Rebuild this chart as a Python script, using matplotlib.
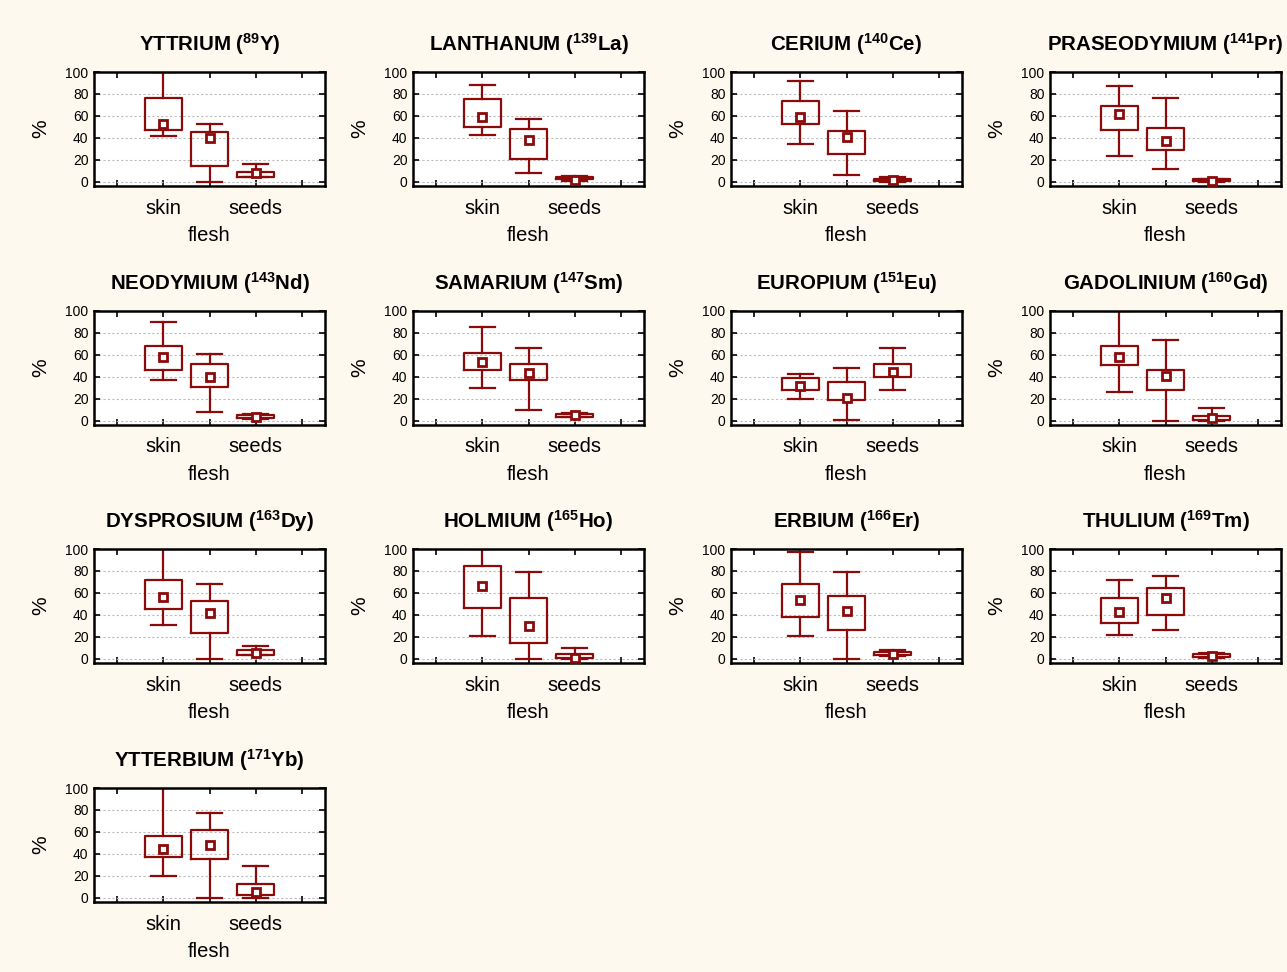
import numpy as np
import matplotlib.pyplot as plt

plt.rcParams['font.family'] = ['Liberation Sans', 'DejaVu Sans']
plt.rcParams['mathtext.fontset'] = 'custom'
plt.rcParams['mathtext.rm'] = 'Liberation Sans:bold'
plt.rcParams['mathtext.it'] = 'Liberation Sans:bold'
plt.rcParams['mathtext.bf'] = 'Liberation Sans:bold'

# element names and isotope labels
titles = [r'YTTRIUM ($^{89}$Y)', r'LANTHANUM ($^{139}$La)', r'CERIUM ($^{140}$Ce)',
          r'PRASEODYMIUM ($^{141}$Pr)', r'NEODYMIUM ($^{143}$Nd)', r'SAMARIUM ($^{147}$Sm)',
          r'EUROPIUM ($^{151}$Eu)', r'GADOLINIUM ($^{160}$Gd)', r'DYSPROSIUM ($^{163}$Dy)',
          r'HOLMIUM ($^{165}$Ho)', r'ERBIUM ($^{166}$Er)', r'THULIUM ($^{169}$Tm)',
          r'YTTERBIUM ($^{171}$Yb)']
parts = ['skin', 'flesh', 'seeds']

# per element: [skin, flesh, seeds]
med = [[53, 40, 7.5], [58.8, 38, 1.3], [58.8, 40.6, 1.3], [62, 36.6, 0.6],
       [58.4, 39.4, 3], [53.8, 43, 4.7], [32, 20.9, 44.7], [57.9, 40.6, 2.2],
       [56, 41.4, 5.5], [66.6, 29.4, 0.5], [53.4, 43.8, 3.8], [42.2, 55.3, 2.2],
       [44, 48, 5.5]]
q1 = [[47.5, 14.6, 4], [49.7, 20.6, 2], [53, 25.6, 0.5], [47.5, 28.9, 0.5],
      [46.3, 30.3, 2.5], [46.6, 37.2, 3.4], [27.5, 19, 39.4], [50.9, 27.7, 0.3],
      [45.4, 23.3, 3.7], [45.9, 14.7, 0.5], [38.4, 25.9, 3.1], [32.8, 40, 1.2],
      [37, 35, 2]]
q3 = [[76.7, 45.6, 9], [75.3, 47.8, 4.4], [73.4, 46.3, 2.5], [69.3, 49, 2],
      [68, 51.9, 5], [61.3, 51.9, 6.3], [39, 35.3, 51.9], [68.2, 46.2, 4.1],
      [72, 52.5, 7.7], [84.7, 55, 3.8], [67.8, 56.9, 6.3], [55, 64.4, 4.4],
      [56, 62, 12]]
lo = [[41.9, 0, 4], [42.2, 7.5, 1], [34.7, 5.6, 0], [23.6, 11.2, 0],
      [37, 8, 1.5], [30, 10, 3], [19.4, 0.6, 28.1], [25.8, 0, 0],
      [31, 0, 3.7], [20.3, 0, 0], [20.3, 0, 2], [21.9, 25.9, 0.5],
      [20, 0, 0]]
hi = [[100, 53, 16.5], [88, 57.2, 5.3], [91.9, 64.7, 4], [87.6, 76.7, 2.2],
      [90, 61, 5.6], [85, 66.6, 7.2], [42.5, 48, 66.6], [100, 73.9, 11.3],
      [100, 68.4, 11.7], [100, 79.4, 9.7], [97.5, 79.4, 7.5], [71.6, 75.3, 5.3],
      [100, 77, 29]]

red = '#8B0A0A'
W, H = 1287, 972
fig = plt.figure(figsize=(W / 100, H / 100), dpi=100, facecolor='#FDF9EE')

lefts = [94, 413, 731, 1050]
tops = [72, 311, 549, 788]
aw, ah = 231, 114

for i, t in enumerate(titles):
    r, c = divmod(i, 4)
    ax = fig.add_axes([lefts[c] / W, 1 - (tops[r] + ah) / H, aw / W, ah / H])
    stats = []
    for j in range(3):
        stats.append(dict(med=med[i][j], q1=q1[i][j], q3=q3[i][j],
                          whislo=lo[i][j], whishi=hi[i][j], label=parts[j]))
    ax.bxp(stats, positions=[2, 3, 4], widths=0.8, capwidths=0.55, showfliers=False,
           boxprops=dict(color=red, lw=1.6), whiskerprops=dict(color=red, lw=1.6),
           capprops=dict(color=red, lw=1.6), medianprops=dict(lw=0))
    ax.plot([2, 3, 4], med[i], ls='none', marker='s', ms=5.5, mfc='white',
            mec=red, mew=2, zorder=5)
    ax.set_xlim(0.5, 5.5)
    ax.set_ylim(-4, 100)
    ax.set_xticks([1, 2, 3, 4, 5], ['', 'skin', '\nflesh', 'seeds', ''], fontsize=14.5)
    for lbl in ax.get_xticklabels():
        lbl.set_linespacing(1.55)
    ax.set_yticks([0, 20, 40, 60, 80, 100])
    ax.tick_params(axis='y', labelsize=10, direction='in', length=4, width=1.2,
                   right=True, pad=4)
    ax.tick_params(axis='x', direction='in', length=4, width=1.2, top=True, pad=9)
    ax.yaxis.grid(True, ls=(0, (2, 2)), color='#BDBDBD', lw=0.8)
    ax.set_axisbelow(True)
    for s in ax.spines.values():
        s.set_linewidth(1.8)
    ax.set_ylabel('%', fontsize=15)
    ax.yaxis.set_label_coords(-0.19, 0.5)
    ax.set_title(t, fontsize=14.8, fontweight='bold', pad=15)

fig.savefig('out.png', dpi=100, facecolor=fig.get_facecolor())
